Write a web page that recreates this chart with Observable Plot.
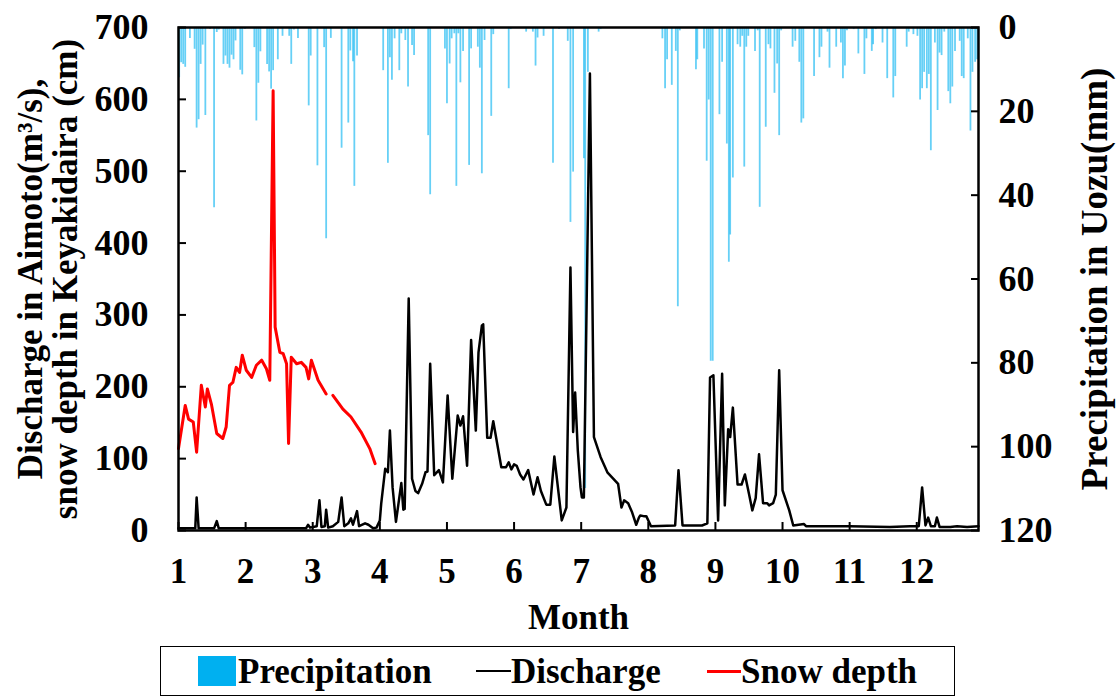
<!DOCTYPE html>
<html><head><meta charset="utf-8">
<script src="https://cdn.jsdelivr.net/npm/d3@7"></script>
<script src="https://cdn.jsdelivr.net/npm/@observablehq/plot@0.6"></script>
<style>
html,body{margin:0;padding:0;background:#fff;}
body{font-family:"Liberation Serif","Times New Roman",serif;font-weight:bold;color:#000;position:relative;width:1116px;height:698px;overflow:hidden;}
#legend{position:absolute;left:160px;top:646px;width:795px;height:50px;border:1.5px solid #000;box-sizing:border-box;font-size:35px;}
#legend .it{position:absolute;top:0;height:100%;display:flex;align-items:center;white-space:nowrap;line-height:1;}
#legend .sw{position:absolute;}
</style></head><body>
<div id="chart"></div>
<div id="legend"></div>
<script>
// ---- data ----
const monthTicks = [1,2,3,4,5,6,7,8,9,10,11,12];
const leftTicks = [0,100,200,300,400,500,600,700];
const precipTicks = [0,20,40,60,80,100,120];
const seriesNames = ["Precipitation","Discharge","Snow depth"];
const seriesColors = ["#00B0F0","#000000","#FF0000"];

// daily precipitation in Uozu: [month position, mm]
const precipitation = [
[1.01,12],[1.04,8.4],[1.07,8.8],[1.10,9.5],[1.17,2.6],[1.24,5.2],[1.27,24],[1.30,22],[1.33,8.8],[1.36,4.2],
[1.40,21],[1.47,0.5],[1.53,43],[1.57,1.2],[1.60,0.6],[1.67,8.8],[1.70,6.8],[1.73,8.8],[1.76,9.7],[1.79,6.6],
[1.82,7.7],[1.85,3.2],[1.92,10.2],[1.95,11.3],[1.99,0.5],[2.13,4.8],[2.16,22.3],[2.19,13.3],[2.22,5.8],[2.32,8.8],
[2.35,10.6],[2.38,14.7],[2.41,10.3],[2.48,7.7],[2.55,2.1],[2.65,2.1],[2.68,8.8],[2.72,0.6],[2.78,2.6],[2.94,18.7],
[2.97,6.8],[3.07,33],[3.17,4.8],[3.20,50.4],[3.27,2.6],[3.43,28.8],[3.53,22.8],[3.56,5.6],[3.60,8.2],[3.62,37.9],
[3.66,6.8],[4.05,10.3],[4.12,32.4],[4.15,7.2],[4.18,12.6],[4.22,2.7],[4.29,10.3],[4.32,1.5],[4.38,3.1],[4.42,14.2],
[4.48,4.3],[4.51,6.7],[4.72,25.8],[4.75,39.9],[4.97,5.1],[5.00,18.2],[5.04,8.7],[5.07,2.7],[5.11,1.5],[5.14,37.9],
[5.17,1.5],[5.20,13.2],[5.24,5.7],[5.33,32.9],[5.36,5.1],[5.46,4.7],[5.49,9.7],[5.52,34.9],[5.56,3.1],[5.66,21.2],
[5.69,1.7],[5.92,14.6],[5.95,0.5],[6.18,1.1],[6.28,1.1],[6.32,9.2],[6.35,2.5],[6.44,2.1],[6.58,32.4],[6.67,0.5],
[6.80,3.3],[6.84,46.5],[6.88,34.5],[7.04,31.3],[7.06,110],[7.10,10.7],[7.26,1.1],[7.29,0.5],[8.21,2.7],[8.25,14.6],
[8.28,7.7],[8.35,13.8],[8.41,5.7],[8.44,66.6],[8.47,0.8],[8.71,10.1],[8.73,7.7],[8.83,5.1],[8.87,31.9],[8.90,17.3],
[8.93,79.6],[8.96,79.6],[9.06,20.8],[9.10,8.3],[9.17,27.8],[9.20,56],[9.22,49.5],[9.26,35.9],[9.33,4.1],[9.37,4.7],
[9.40,2.1],[9.43,33.3],[9.46,4.7],[9.49,2.1],[9.59,5.7],[9.63,0.8],[9.66,42.9],[9.75,23.8],[9.79,4.1],[9.82,5.1],
[9.88,15.7],[9.92,8.7],[9.95,25.8],[9.98,0.8],[10.15,4.7],[10.19,3.3],[10.25,8.3],[10.28,22.8],[10.31,21.8],[10.47,11.7],
[10.55,7.2],[10.58,4.7],[10.67,1.1],[10.70,9.7],[10.80,4.7],[10.87,3.7],[10.90,12.2],[10.93,9.2],[10.96,0.8],[11.06,0.5],
[11.13,6.3],[11.22,11.2],[11.25,2.7],[11.33,5.7],[11.35,4.1],[11.39,0.5],[11.49,3.7],[11.56,12.2],[11.65,16.8],[11.68,11.7],
[11.85,4.7],[11.88,1.1],[11.95,1.7],[12.01,2.1],[12.05,17.3],[12.08,14.6],[12.11,10.7],[12.15,14.6],[12.18,11.2],[12.21,29.4],
[12.27,3.7],[12.31,19.8],[12.34,6.1],[12.37,6.7],[12.41,1.1],[12.47,15.3],[12.50,18.2],[12.53,14.2],[12.57,5.7],[12.64,3.3],
[12.67,11.7],[12.70,12.2],[12.76,2.7],[12.80,24.7],[12.83,10.7],[12.87,8.3],[12.90,7.7]
];

// discharge in Aimoto (m3/s): [month position, value]
const discharge = [
[1.00,3],[1.25,3],[1.27,46],[1.30,3],[1.53,3],[1.57,13],[1.60,3],[2.0,3],[2.5,3],[2.90,3],[2.93,8],[2.96,4],
[3.06,6],[3.10,42],[3.13,5],[3.18,6],[3.20,29],[3.23,4],[3.30,6],[3.38,12],[3.43,46],[3.47,6],[3.53,10],[3.57,17],
[3.60,8],[3.66,27],[3.69,6],[3.78,10],[3.83,8],[3.90,3],[3.95,4],[4.00,14],[4.02,37],[4.08,86],[4.12,81],[4.15,139],
[4.19,60],[4.24,12],[4.32,66],[4.35,29],[4.37,30],[4.43,323],[4.48,72],[4.53,55],[4.57,52],[4.63,65],[4.68,81],[4.71,82],
[4.75,232],[4.81,77],[4.88,84],[4.94,67],[5.01,188],[5.08,72],[5.16,160],[5.20,146],[5.24,159],[5.30,90],[5.36,265],[5.43,139],
[5.47,248],[5.52,285],[5.54,287],[5.60,129],[5.65,129],[5.69,152],[5.75,120],[5.81,88],[5.88,88],[5.92,95],[5.96,85],[6.00,92],
[6.04,90],[6.09,78],[6.14,71],[6.21,84],[6.29,50],[6.35,74],[6.40,55],[6.48,36],[6.54,36],[6.60,103],[6.71,14],[6.78,32],
[6.84,366],[6.88,137],[6.91,192],[6.95,111],[6.99,60],[7.01,46],[7.04,46],[7.13,636],[7.19,130],[7.29,102],[7.39,81],[7.47,73],
[7.55,65],[7.60,32],[7.64,42],[7.70,38],[7.76,25],[7.82,8],[7.86,18],[7.88,21],[7.93,20],[7.97,20],[8.04,6],[8.40,7],
[8.45,84],[8.51,7],[8.80,7],[8.88,10],[8.92,213],[8.97,216],[9.04,14],[9.10,218],[9.14,35],[9.19,141],[9.22,130],[9.26,171],
[9.33,64],[9.39,64],[9.44,78],[9.50,51],[9.55,28],[9.60,45],[9.65,106],[9.71,38],[9.77,38],[9.80,35],[9.86,38],[9.90,50],
[9.95,223],[10.00,56],[10.10,28],[10.16,7],[10.32,9],[10.35,6],[11.0,6],[11.6,5],[11.9,6],[12.03,6],[12.08,60],[12.13,7],
[12.17,18],[12.21,6],[12.27,6],[12.30,18],[12.34,5],[12.50,5],[12.60,6],[12.75,5],[12.92,6]
];

// snow depth in Keyakidaira (cm): [month position, value]; null = missing
const snowDepth = [
[1.00,114],[1.10,174],[1.15,155],[1.22,151],[1.27,109],[1.34,202],[1.40,172],[1.43,197],[1.49,176],[1.57,135],
[1.66,128],[1.71,144],[1.76,202],[1.81,206],[1.86,227],[1.91,220],[1.95,244],[2.01,223],[2.09,213],[2.16,230],
[2.24,237],[2.31,225],[2.36,209],[2.41,612],[2.44,283],[2.51,248],[2.56,246],[2.61,232],[2.64,121],[2.68,241],
[2.76,232],[2.83,234],[2.90,227],[2.94,211],[2.98,237],[3.08,209],[3.20,190],[3.25,null],[3.30,188],[3.45,169],
[3.57,158],[3.72,137],[3.85,114],[3.93,93]
];

// ---- chart ----
const FONT = "'Liberation Serif','Times New Roman',serif";
const yMax = 700, pMax = 120;
const toLeft = mm => yMax - mm * yMax / pMax;   // precipitation axis is inverted, 0 at top
const precipRows = precipitation.map(([m, mm]) => ({m, y1: toLeft(0), y2: toLeft(mm)}));
const dischargeRows = discharge.map(([m, v]) => ({m, v}));
const snowRows = snowDepth.map(([m, v]) => ({m, v}));

const chart = Plot.plot({
  width: 1116, height: 640,
  marginLeft: 178, marginRight: 138, marginTop: 27, marginBottom: 110,
  style: {fontFamily: FONT, fontWeight: "bold", fontSize: "35px", color: "#000", background: "#fff", overflow: "visible"},
  x: {domain: [1, 12.92]},
  y: {domain: [0, yMax]},
  marks: [
    Plot.ruleX(precipRows, {x: "m", y1: "y1", y2: "y2", stroke: seriesColors[0], strokeWidth: 1.8, strokeOpacity: 0.6}),
    Plot.line(dischargeRows, {x: "m", y: "v", stroke: seriesColors[1], strokeWidth: 2.5, curve: "linear"}),
    Plot.line(snowRows, {x: "m", y: "v", stroke: seriesColors[2], strokeWidth: 3, curve: "linear"}),
    Plot.frame({stroke: "#000", strokeWidth: 2.5}),
    Plot.axisX(monthTicks, {anchor: "bottom", tickSize: -8, tickPadding: 36, strokeWidth: 2, tickFormat: d => String(d), label: null, fontSize: 35}),
    Plot.axisY(leftTicks, {anchor: "left", tickSize: -8, tickPadding: 38, strokeWidth: 2, tickFormat: d => String(d), label: null, fontSize: 36}),
    Plot.axisY(precipTicks.map(toLeft), {anchor: "right", tickSize: -8, tickPadding: 28, strokeWidth: 2,
      tickFormat: v => String(Math.round((yMax - v) * pMax / yMax)), label: null, fontSize: 36}),
    Plot.text(["Month"], {frameAnchor: "bottom", dy: 87, fontSize: 35, fontWeight: "bold", lineAnchor: "middle", textAnchor: "middle"}),
    Plot.text(["Discharge in Aimoto(m³/s),\nsnow depth in Keyakidaira (cm)"], {frameAnchor: "left", dx: -130, rotate: -90, fontSize: 35, fontWeight: "bold", lineHeight: 1.0, lineAnchor: "middle", textAnchor: "middle"}),
    Plot.text(["Precipitation in Uozu(mm)"], {frameAnchor: "right", dx: 117, rotate: -90, fontSize: 37, fontWeight: "bold", lineAnchor: "middle", textAnchor: "middle"})
  ]
});
document.getElementById("chart").appendChild(chart);

// ---- legend ----
const lg = document.getElementById("legend");
const items = [
  {sw: {left: 37, width: 38, height: 30, bg: seriesColors[0]}, textLeft: 77, name: seriesNames[0]},
  {sw: {left: 315, width: 35, height: 2.5, bg: seriesColors[1]}, textLeft: 350, name: seriesNames[1]},
  {sw: {left: 546, width: 34, height: 3, bg: seriesColors[2]}, textLeft: 580, name: seriesNames[2]}
];
for (const it of items) {
  const s = document.createElement("div");
  s.className = "sw";
  s.style.left = it.sw.left + "px";
  s.style.width = it.sw.width + "px";
  s.style.height = it.sw.height + "px";
  s.style.top = "calc(50% - " + (it.sw.height / 2) + "px)";
  s.style.background = it.sw.bg;
  lg.appendChild(s);
  const t = document.createElement("div");
  t.className = "it";
  t.style.left = it.textLeft + "px";
  t.textContent = it.name;
  lg.appendChild(t);
}
</script>
</body></html>
